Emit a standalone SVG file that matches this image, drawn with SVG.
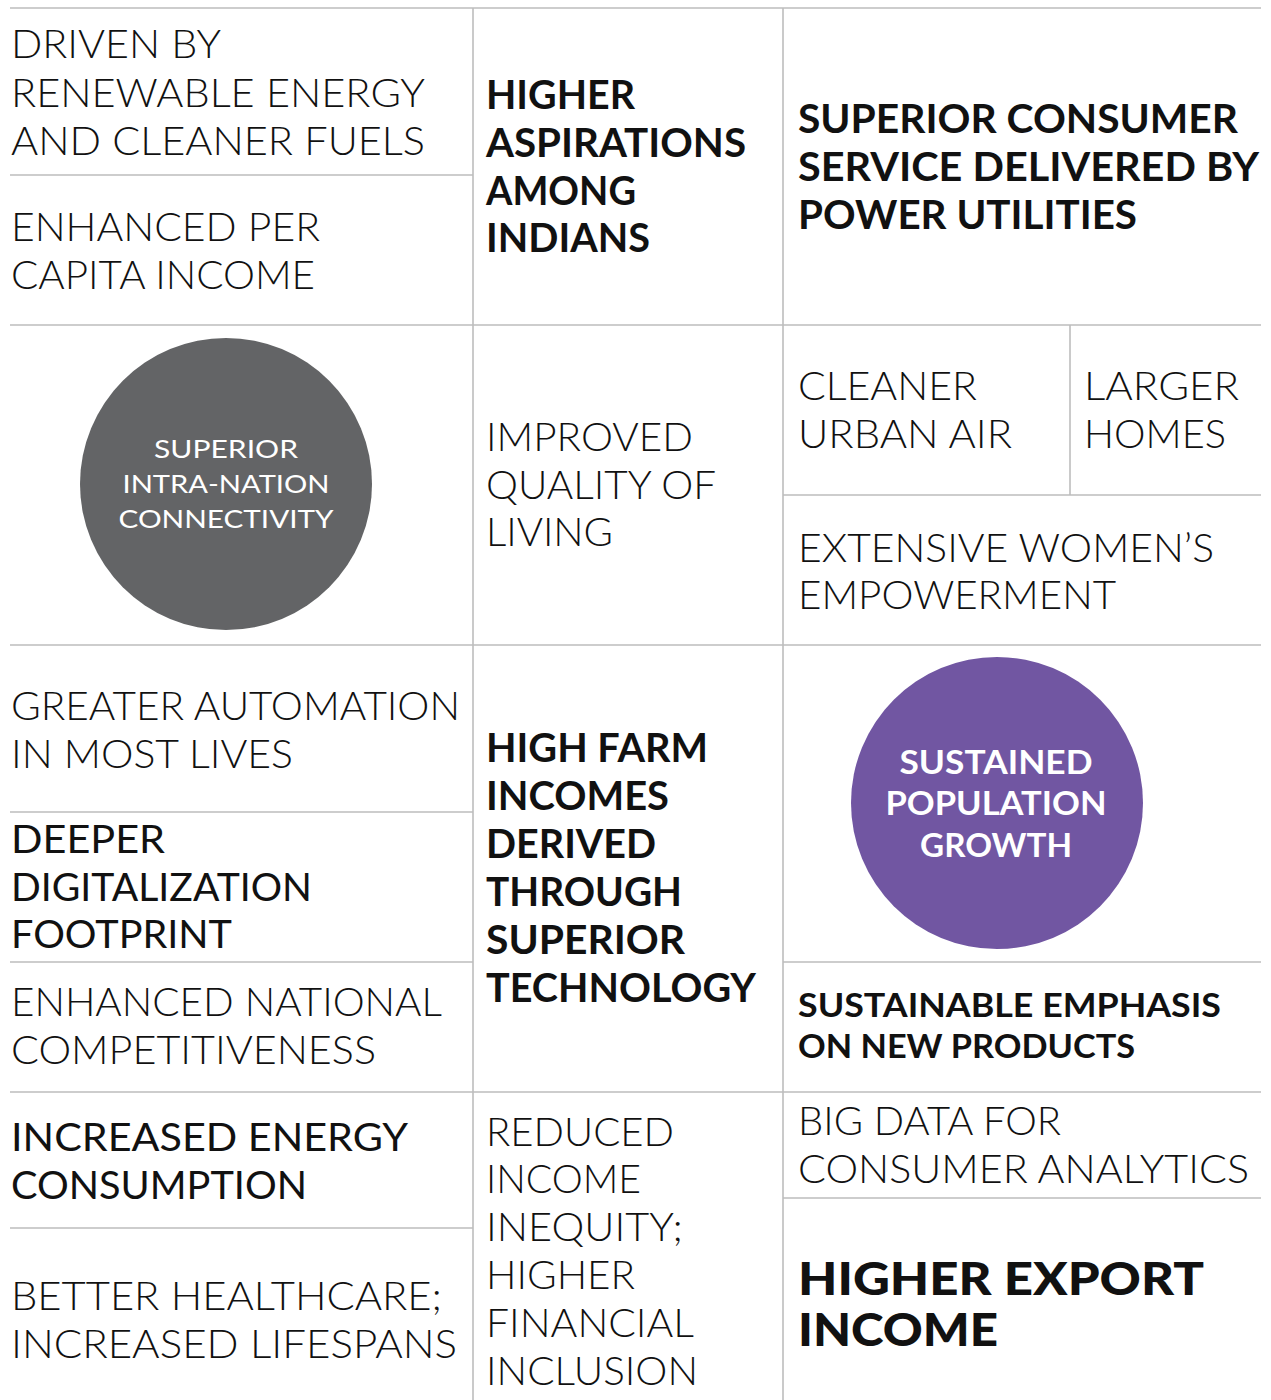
<svg xmlns="http://www.w3.org/2000/svg" width="1271" height="1400" viewBox="0 0 1271 1400">
<style>
.ln{stroke:#bdbdbd;stroke-width:1.6;fill:none}
text{font-family:Lato,"Liberation Sans",sans-serif;fill:#111}
.lt{font-size:39px;font-weight:300}
.md{font-size:39px;font-weight:400}
.bd{font-size:40px;font-weight:700}
.sb{font-size:33px;font-weight:700}
.xb{font-size:45px;font-weight:900}
.cw{font-size:25px;font-weight:400;fill:#fff}
.cp{font-size:32px;font-weight:700;fill:#fff}
</style>
<rect width="1271" height="1400" fill="#fff"/>
<g id="connectors">
<line class="ln" x1="10" y1="8" x2="1261" y2="8"/>
<line class="ln" x1="10" y1="325" x2="1261" y2="325"/>
<line class="ln" x1="10" y1="645" x2="1261" y2="645"/>
<line class="ln" x1="10" y1="1092" x2="1261" y2="1092"/>
<line class="ln" x1="10" y1="175" x2="473" y2="175"/>
<line class="ln" x1="10" y1="812" x2="473" y2="812"/>
<line class="ln" x1="10" y1="962" x2="473" y2="962"/>
<line class="ln" x1="10" y1="1228" x2="473" y2="1228"/>
<line class="ln" x1="783" y1="495" x2="1261" y2="495"/>
<line class="ln" x1="783" y1="962" x2="1261" y2="962"/>
<line class="ln" x1="783" y1="1198" x2="1261" y2="1198"/>
<line class="ln" x1="473" y1="8" x2="473" y2="1400"/>
<line class="ln" x1="783" y1="8" x2="783" y2="1400"/>
<line class="ln" x1="1070" y1="325" x2="1070" y2="495"/>
</g>
<g id="n-renewable">
<text class="lt" x="11" y="58" textLength="210" lengthAdjust="spacingAndGlyphs">DRIVEN BY</text>
<text class="lt" x="11" y="107" textLength="414" lengthAdjust="spacingAndGlyphs">RENEWABLE ENERGY</text>
<text class="lt" x="11" y="155" textLength="414" lengthAdjust="spacingAndGlyphs">AND CLEANER FUELS</text>
</g>
<g id="n-income">
<text class="lt" x="11" y="241" textLength="309" lengthAdjust="spacingAndGlyphs">ENHANCED PER</text>
<text class="lt" x="11" y="289" textLength="304" lengthAdjust="spacingAndGlyphs">CAPITA INCOME</text>
</g>
<g id="n-aspirations">
<text class="bd" x="486" y="109" textLength="149" lengthAdjust="spacingAndGlyphs">HIGHER</text>
<text class="bd" x="486" y="157" textLength="260" lengthAdjust="spacingAndGlyphs">ASPIRATIONS</text>
<text class="bd" x="486" y="205" textLength="150" lengthAdjust="spacingAndGlyphs">AMONG</text>
<text class="bd" x="486" y="252" textLength="164" lengthAdjust="spacingAndGlyphs">INDIANS</text>
</g>
<g id="n-consumer-service">
<text class="bd" x="798" y="133" textLength="440" lengthAdjust="spacingAndGlyphs">SUPERIOR CONSUMER</text>
<text class="bd" x="798" y="181" textLength="461" lengthAdjust="spacingAndGlyphs">SERVICE DELIVERED BY</text>
<text class="bd" x="798" y="229" textLength="339" lengthAdjust="spacingAndGlyphs">POWER UTILITIES</text>
</g>
<g id="n-connectivity">
<circle cx="226" cy="484" r="146" fill="#636466"/>
<text class="cw" x="226" y="458" text-anchor="middle" textLength="144" lengthAdjust="spacingAndGlyphs">SUPERIOR</text>
<text class="cw" x="226" y="493" text-anchor="middle" textLength="207" lengthAdjust="spacingAndGlyphs">INTRA-NATION</text>
<text class="cw" x="226" y="528" text-anchor="middle" textLength="215" lengthAdjust="spacingAndGlyphs">CONNECTIVITY</text>
</g>
<g id="n-quality">
<text class="lt" x="486" y="451" textLength="207" lengthAdjust="spacingAndGlyphs">IMPROVED</text>
<text class="lt" x="486" y="499" textLength="230" lengthAdjust="spacingAndGlyphs">QUALITY OF</text>
<text class="lt" x="486" y="546" textLength="127" lengthAdjust="spacingAndGlyphs">LIVING</text>
</g>
<g id="n-air">
<text class="lt" x="798" y="400" textLength="179" lengthAdjust="spacingAndGlyphs">CLEANER</text>
<text class="lt" x="798" y="448" textLength="214" lengthAdjust="spacingAndGlyphs">URBAN AIR</text>
</g>
<g id="n-homes">
<text class="lt" x="1084" y="400" textLength="155" lengthAdjust="spacingAndGlyphs">LARGER</text>
<text class="lt" x="1084" y="448" textLength="142" lengthAdjust="spacingAndGlyphs">HOMES</text>
</g>
<g id="n-women">
<text class="lt" x="798" y="562" textLength="416" lengthAdjust="spacingAndGlyphs">EXTENSIVE WOMEN’S</text>
<text class="lt" x="798" y="609" textLength="318" lengthAdjust="spacingAndGlyphs">EMPOWERMENT</text>
</g>
<g id="n-automation">
<text class="lt" x="11" y="720" textLength="449" lengthAdjust="spacingAndGlyphs">GREATER AUTOMATION</text>
<text class="lt" x="11" y="768" textLength="282" lengthAdjust="spacingAndGlyphs">IN MOST LIVES</text>
</g>
<g id="n-digital">
<text class="md" x="11" y="853" textLength="154" lengthAdjust="spacingAndGlyphs">DEEPER</text>
<text class="md" x="11" y="901" textLength="301" lengthAdjust="spacingAndGlyphs">DIGITALIZATION</text>
<text class="md" x="11" y="948" textLength="221" lengthAdjust="spacingAndGlyphs">FOOTPRINT</text>
</g>
<g id="n-competitiveness">
<text class="lt" x="11" y="1016" textLength="431" lengthAdjust="spacingAndGlyphs">ENHANCED NATIONAL</text>
<text class="lt" x="11" y="1064" textLength="365" lengthAdjust="spacingAndGlyphs">COMPETITIVENESS</text>
</g>
<g id="n-farm">
<text class="bd" x="486" y="762" textLength="222" lengthAdjust="spacingAndGlyphs">HIGH FARM</text>
<text class="bd" x="486" y="810" textLength="183" lengthAdjust="spacingAndGlyphs">INCOMES</text>
<text class="bd" x="486" y="858" textLength="170" lengthAdjust="spacingAndGlyphs">DERIVED</text>
<text class="bd" x="486" y="906" textLength="196" lengthAdjust="spacingAndGlyphs">THROUGH</text>
<text class="bd" x="486" y="954" textLength="199" lengthAdjust="spacingAndGlyphs">SUPERIOR</text>
<text class="bd" x="486" y="1002" textLength="270" lengthAdjust="spacingAndGlyphs">TECHNOLOGY</text>
</g>
<g id="n-population">
<circle cx="997" cy="803" r="146" fill="#7156A2"/>
<text class="cp" x="996" y="774" text-anchor="middle" textLength="193" lengthAdjust="spacingAndGlyphs">SUSTAINED</text>
<text class="cp" x="996" y="815" text-anchor="middle" textLength="221" lengthAdjust="spacingAndGlyphs">POPULATION</text>
<text class="cp" x="996" y="857" text-anchor="middle" textLength="152" lengthAdjust="spacingAndGlyphs">GROWTH</text>
</g>
<g id="n-products">
<text class="sb" x="798" y="1017" textLength="423" lengthAdjust="spacingAndGlyphs">SUSTAINABLE EMPHASIS</text>
<text class="sb" x="798" y="1058" textLength="337" lengthAdjust="spacingAndGlyphs">ON NEW PRODUCTS</text>
</g>
<g id="n-energy">
<text class="md" x="11" y="1151" textLength="397" lengthAdjust="spacingAndGlyphs">INCREASED ENERGY</text>
<text class="md" x="11" y="1199" textLength="296" lengthAdjust="spacingAndGlyphs">CONSUMPTION</text>
</g>
<g id="n-health">
<text class="lt" x="11" y="1310" textLength="431" lengthAdjust="spacingAndGlyphs">BETTER HEALTHCARE;</text>
<text class="lt" x="11" y="1358" textLength="446" lengthAdjust="spacingAndGlyphs">INCREASED LIFESPANS</text>
</g>
<g id="n-inequity">
<text class="lt" x="486" y="1146" textLength="188" lengthAdjust="spacingAndGlyphs">REDUCED</text>
<text class="lt" x="486" y="1193" textLength="155" lengthAdjust="spacingAndGlyphs">INCOME</text>
<text class="lt" x="486" y="1241" textLength="197" lengthAdjust="spacingAndGlyphs">INEQUITY;</text>
<text class="lt" x="486" y="1289" textLength="149" lengthAdjust="spacingAndGlyphs">HIGHER</text>
<text class="lt" x="486" y="1337" textLength="208" lengthAdjust="spacingAndGlyphs">FINANCIAL</text>
<text class="lt" x="486" y="1385" textLength="212" lengthAdjust="spacingAndGlyphs">INCLUSION</text>
</g>
<g id="n-bigdata">
<text class="lt" x="798" y="1135" textLength="263" lengthAdjust="spacingAndGlyphs">BIG DATA FOR</text>
<text class="lt" x="798" y="1183" textLength="451" lengthAdjust="spacingAndGlyphs">CONSUMER ANALYTICS</text>
</g>
<g id="n-export">
<text class="xb" x="798" y="1295" textLength="406" lengthAdjust="spacingAndGlyphs">HIGHER EXPORT</text>
<text class="xb" x="798" y="1346" textLength="200" lengthAdjust="spacingAndGlyphs">INCOME</text>
</g>
</svg>
